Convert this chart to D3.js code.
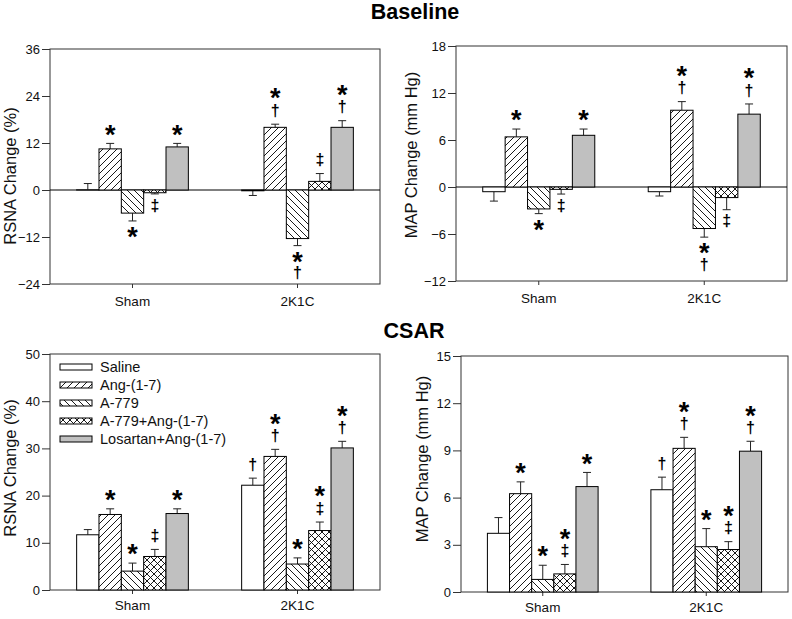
<!DOCTYPE html>
<html><head><meta charset="utf-8">
<script src="https://cdn.jsdelivr.net/npm/d3@7"></script>
<style>
body{margin:0;background:#fff;}
text{font-family:"Liberation Sans",Arial,sans-serif;}
</style></head>
<body><div id="chart"></div>
<script>
// ---------- data ----------
const groups = ["Sham", "2K1C"];
const treatments = ["Saline", "Ang-(1-7)", "A-779", "A-779+Ang-(1-7)", "Losartan+Ang-(1-7)"];

const baseRsnaMean = [[0.05, 10.5, -5.9, -0.7, 11.0], [-0.2, 16.0, -12.4, 2.2, 16.0]];
const baseRsnaErr  = [[1.6, 1.4, 2.0, 0.3, 0.9], [1.2, 0.8, 1.8, 2.0, 1.7]];
const baseRsnaSig  = [[[], ["*"], ["*"], ["‡"], ["*"]], [[], ["†", "*"], ["*", "†"], ["‡"], ["†", "*"]]];
const baseRsnaTicks = [-24, -12, 0, 12, 24, 36];

const baseMapMean = [[-0.6, 6.4, -2.8, -0.3, 6.6], [-0.6, 9.8, -5.3, -1.35, 9.3]];
const baseMapErr  = [[1.2, 1.0, 0.6, 0.6, 0.8], [0.55, 1.1, 1.1, 1.55, 1.3]];
const baseMapSig  = [[[], ["*"], ["*"], ["‡"], ["*"]], [[], ["†", "*"], ["*", "†"], ["‡"], ["†", "*"]]];
const baseMapTicks = [-12, -6, 0, 6, 12, 18];

const csarRsnaMean = [[11.7, 16.0, 4.0, 7.1, 16.2], [22.2, 28.3, 5.5, 12.6, 30.1]];
const csarRsnaErr  = [[1.1, 1.2, 1.7, 1.5, 1.0], [1.5, 1.5, 1.3, 1.8, 1.4]];
const csarRsnaSig  = [[[], ["*"], ["*"], ["‡"], ["*"]], [["†"], ["†", "*"], ["*"], ["‡", "*"], ["†", "*"]]];
const csarRsnaTicks = [0, 10, 20, 30, 40, 50];

const csarMapMean = [[3.73, 6.25, 0.8, 1.15, 6.7], [6.5, 9.13, 2.88, 2.7, 8.95]];
const csarMapErr  = [[1.0, 0.75, 0.9, 0.6, 0.9], [0.8, 0.7, 1.15, 0.5, 0.63]];
const csarMapSig  = [[[], ["*"], ["*"], ["‡", "*"], ["*"]], [["†"], ["†", "*"], ["*"], ["‡", "*"], ["†", "*"]]];
const csarMapTicks = [0, 3, 6, 9, 12, 15];

const titles = ["Baseline", "CSAR"];
const yLabels = ["RSNA Change (%)", "MAP Change (mm Hg)"];

// ---------- drawing ----------
const svg = d3.select("#chart").append("svg").attr("width", 792).attr("height", 619);
const defs = svg.append("defs");
function hatch(id, paths, size) {
  const p = defs.append("pattern").attr("id", id).attr("patternUnits", "userSpaceOnUse")
    .attr("width", size).attr("height", size);
  p.append("rect").attr("width", size).attr("height", size).attr("fill", "#fff");
  paths.forEach(d => p.append("path").attr("d", d).attr("stroke", "#000").attr("stroke-width", 0.9).attr("fill", "none"));
}
const s = 7;
hatch("fwd", [`M0,${s} L${s},0`, `M-1,1 L1,-1`, `M${s-1},${s+1} L${s+1},${s-1}`], s);
hatch("bwd", [`M0,0 L${s},${s}`, `M${s-1},-1 L${s+1},1`, `M-1,${s-1} L1,${s+1}`], s);
hatch("cross", [`M0,${s} L${s},0`, `M-1,1 L1,-1`, `M${s-1},${s+1} L${s+1},${s-1}`,
                `M0,0 L${s},${s}`, `M${s-1},-1 L${s+1},1`, `M-1,${s-1} L1,${s+1}`], s);
const fills = ["#ffffff", "url(#fwd)", "url(#bwd)", "url(#cross)", "#c0c0c0"];

const panels = [
  {mean: baseRsnaMean, err: baseRsnaErr, sig: baseRsnaSig, ticks: baseRsnaTicks, label: yLabels[0],
   x0: 50, x1: 380, y0: 49, y1: 284, lx: 10, ly: 176, xlab: 22},
  {mean: baseMapMean, err: baseMapErr, sig: baseMapSig, ticks: baseMapTicks, label: yLabels[1],
   x0: 456, x1: 787, y0: 46, y1: 281, lx: 411, ly: 155, xlab: 22},
  {mean: csarRsnaMean, err: csarRsnaErr, sig: csarRsnaSig, ticks: csarRsnaTicks, label: yLabels[0],
   x0: 50, x1: 380, y0: 354, y1: 590, lx: 10, ly: 468, xlab: 20, legend: true},
  {mean: csarMapMean, err: csarMapErr, sig: csarMapSig, ticks: csarMapTicks, label: yLabels[1],
   x0: 461, x1: 788, y0: 356, y1: 592, lx: 422, ly: 459, xlab: 20}
];

const STAR_FS = 27, DAG_FS = 16;

panels.forEach(P => {
  const g = svg.append("g");
  const y = d3.scaleLinear().domain([P.ticks[0], P.ticks[P.ticks.length - 1]]).range([P.y1, P.y0]);
  const x = d3.scaleBand().domain(groups).range([P.x0, P.x1]).padding(0);
  const bw = x.bandwidth() * 0.677;
  const xi = d3.scaleBand().domain(treatments).range([0, bw]).padding(0);

  // box
  g.append("rect").attr("x", P.x0).attr("y", P.y0).attr("width", P.x1 - P.x0).attr("height", P.y1 - P.y0)
    .attr("fill", "none").attr("stroke", "#333").attr("stroke-width", 1);

  // axes
  const ya = g.append("g").attr("transform", `translate(${P.x0},0)`)
    .call(d3.axisLeft(y).tickValues(P.ticks).tickSize(8).tickPadding(2).tickFormat(d3.format("d")));
  ya.select(".domain").remove();
  ya.selectAll("line").attr("stroke", "#333");
  ya.selectAll("text").attr("font-size", 13).attr("fill", "#111").style("font-family", "Liberation Sans, Arial");
  const xa = g.append("g").attr("transform", `translate(0,${P.y1})`)
    .call(d3.axisBottom(x).tickSize(4).tickPadding(P.xlab - 13.5 * 0.71 - 4));
  xa.select(".domain").remove();
  xa.selectAll("line").attr("stroke", "#333");
  xa.selectAll("text").attr("font-size", 13.5).attr("fill", "#111").style("font-family", "Liberation Sans, Arial");

  // zero line
  if (P.ticks[0] < 0) {
    g.append("line").attr("x1", P.x0).attr("x2", P.x1).attr("y1", y(0)).attr("y2", y(0))
      .attr("stroke", "#000").attr("stroke-width", 1);
  }

  // bars
  groups.forEach((grp, gi) => {
    const gx = x(grp) + x.bandwidth() / 2 - bw / 2;
    treatments.forEach((t, ti) => {
      const m = P.mean[gi][ti], e = P.err[gi][ti];
      const bx = gx + xi(t), w = xi.bandwidth(), cx = bx + w / 2;
      const end = m >= 0 ? m + e : m - e;
      // error bar
      g.append("line").attr("x1", cx).attr("x2", cx).attr("y1", y(m)).attr("y2", y(end))
        .attr("stroke", "#222").attr("stroke-width", 1);
      g.append("line").attr("x1", cx - 4).attr("x2", cx + 4).attr("y1", y(end)).attr("y2", y(end))
        .attr("stroke", "#222").attr("stroke-width", 1);
      g.append("rect").attr("x", bx).attr("width", w)
        .attr("y", Math.min(y(m), y(0))).attr("height", Math.abs(y(m) - y(0)))
        .attr("fill", fills[ti]).attr("stroke", "#000").attr("stroke-width", 1);
      // significance symbols (one text per bar, one tspan per symbol)
      const syms = P.sig[gi][ti];
      if (syms.length) {
        const up = m >= 0;
        const tx = g.append("text").attr("text-anchor", "middle").attr("font-weight", "bold").attr("fill", "#000");
        syms.forEach((sym, k) => {
          const cy = up ? y(end) - 13 - k * 17 : y(end) + 12 + k * 16;
          const star = sym === "*";
          const fs = star ? STAR_FS : DAG_FS;
          tx.append("tspan").attr("x", cx).attr("y", cy + (star ? 0.49 * fs : 0.29 * fs))
            .attr("font-size", fs).text(sym);
        });
      }
    });
  });

  // y label
  g.append("text").attr("transform", `translate(${P.lx},${P.ly}) rotate(-90)`)
    .attr("text-anchor", "middle").attr("dy", "0.35em").attr("font-size", 16.5).attr("fill", "#111")
    .text(P.label);

  // legend
  if (P.legend) {
    const lg = g.append("g");
    treatments.forEach((t, ti) => {
      const ly = 367 + ti * 18;
      lg.append("rect").attr("x", 60).attr("y", ly - 3).attr("width", 32).attr("height", 6)
        .attr("fill", fills[ti]).attr("stroke", "#000").attr("stroke-width", 1);
      lg.append("text").attr("x", 100).attr("y", ly + 5).attr("font-size", 14.5).attr("fill", "#111").text(t);
    });
  }
});

// titles
svg.append("text").attr("x", 415).attr("y", 19).attr("text-anchor", "middle")
  .attr("font-size", 21.5).attr("font-weight", "bold").text(titles[0]);
svg.append("text").attr("x", 414).attr("y", 338).attr("text-anchor", "middle")
  .attr("font-size", 21.5).attr("font-weight", "bold").text(titles[1]);
</script>
</body></html>
